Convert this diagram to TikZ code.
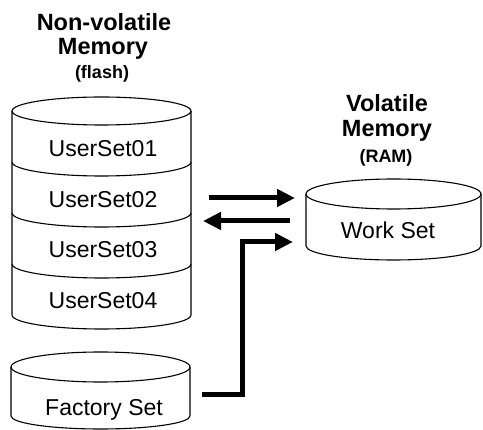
\documentclass[tikz,border=0pt]{standalone}
\usepackage{fontspec}
\setmainfont{Liberation Sans}
\usetikzlibrary{arrows.meta}
\begin{document}
\begin{tikzpicture}[x=1pt,y=-1pt,
  cyl/.style={line width=1.1pt, line join=round},
  lbl/.style={font=\fontsize{23}{27}\selectfont, inner sep=0pt, anchor=base},
  ttl/.style={font=\fontsize{23.5}{28}\selectfont\bfseries, inner sep=0pt, anchor=base},
  sub/.style={font=\fontsize{18}{22}\selectfont\bfseries, inner sep=0pt, anchor=base},
  bigarrow/.style={line width=5pt, line join=miter, -{Triangle[length=18pt,width=17pt]}}]
\useasboundingbox (0,0) rectangle (483,430);

% titles
\node[ttl] (t1a) at (104,31) {Non-volatile};
\node[ttl] (t1b) at (103,55) {Memory};
\node[sub] (t1c) at (102,79) {(flash)};
\node[ttl] (t2a) at (387,112) {Volatile};
\node[ttl] (t2b) at (387,137) {Memory};
\node[sub] (t2c) at (386,163) {(RAM)};

% non-volatile stack
\draw[cyl] (101.5,111) ellipse [x radius=89.5pt, y radius=14pt];
\draw[cyl] (12,111) -- (12,315) arc[start angle=180,end angle=360,x radius=89.5pt,y radius=14pt] -- (191,111);
\foreach \yy in {162,213,264}
  \draw[cyl] (12,\yy) arc[start angle=180,end angle=360,x radius=89.5pt,y radius=14pt];
\node[lbl] (u1) at (103,157) {UserSet01};
\node[lbl] (u2) at (103,208) {UserSet02};
\node[lbl] (u3) at (103,258) {UserSet03};
\node[lbl] (u4) at (103,309) {UserSet04};

% factory set
\draw[cyl] (100.5,367) ellipse [x radius=89.5pt, y radius=15pt];
\draw[cyl] (11,367) -- (11,416) arc[start angle=180,end angle=360,x radius=89.5pt,y radius=13pt] -- (190,367);
\node[lbl] (fs) at (104,416) {Factory Set};

% work set
\draw[cyl] (393.5,194) ellipse [x radius=87.5pt, y radius=15pt];
\draw[cyl] (306,194) -- (306,246) arc[start angle=180,end angle=360,x radius=87.5pt,y radius=14pt] -- (481,194);
\node[lbl] (ws) at (388,239) {Work Set};

% arrows
\coordinate (a1s) at (209,198);
\coordinate (a1e) at (295,198);
\coordinate (a2s) at (290,221);
\coordinate (a2e) at (203,221);
\coordinate (a3s) at (202,395);
\coordinate (a3c) at (242,242);
\coordinate (a3e) at (293,242);
\draw[bigarrow] (a1s) -- (a1e);
\draw[bigarrow] (a2s) -- (a2e);
\draw[bigarrow] (a3s) -| (a3c) -- (a3e);
\end{tikzpicture}
\end{document}
